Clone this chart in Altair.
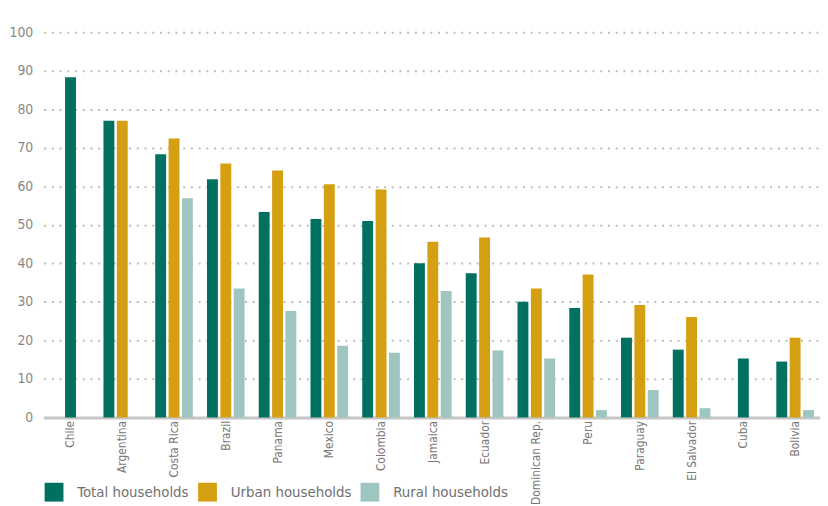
import altair as alt
import pandas as pd

countries = ["Chile", "Argentina", "Costa Rica", "Brazil", "Panama", "Mexico", "Colombia",
             "Jamaica", "Ecuador", "Dominican Rep.", "Peru", "Paraguay", "El Salvador", "Cuba", "Bolivia"]
total = [88.3, 77.0, 68.3, 61.8, 53.3, 51.5, 51.0, 40.0, 37.4, 30.0, 28.4, 20.7, 17.6, 15.3, 14.5]
urban = [None, 77.0, 72.4, 65.9, 64.1, 60.5, 59.2, 45.6, 46.7, 33.5, 37.1, 29.2, 26.1, None, 20.7]
rural = [None, None, 56.9, 33.5, 27.6, 18.6, 16.8, 32.8, 17.4, 15.3, 1.9, 7.1, 2.4, None, 1.9]
series = ["Total households", "Urban households", "Rural households"]
colors = ["#007060", "#D4A012", "#9EC5C0"]

rows = []
for i, c in enumerate(countries):
    for k, vals in enumerate([total, urban, rural]):
        if vals[i] is not None:
            rows.append({"country": c, "series": series[k], "order": k, "value": vals[i]})
df = pd.DataFrame(rows)

FONT = "DejaVu Sans Condensed, Liberation Sans Narrow, Roboto Condensed, Roboto, sans-serif"
W = 784
half = W / len(countries) / 2 + 1

chart = alt.Chart(df).transform_joinaggregate(
    n="count()", groupby=["country"]
).transform_calculate(
    off="datum.n == 1 ? 0 : datum.order - 1"
).mark_bar(size=11).encode(
    x=alt.X("country:N", sort=countries, title=None,
            scale=alt.Scale(paddingInner=0, paddingOuter=0),
            axis=alt.Axis(labelAngle=-90, labelFont=FONT, labelFontSize=12, labelColor="#777777",
                          ticks=False, domainColor="#C6C6C6", domainWidth=3, labelPadding=3,
                          labelOffset=1)),
    xOffset=alt.XOffset("off:Q", scale=alt.Scale(domain=[-1, 1], range=[half - 13.5, half + 13.5])),
    y=alt.Y("value:Q", title=None,
            scale=alt.Scale(domain=[0, 100], nice=False),
            axis=alt.Axis(values=list(range(0, 101, 10)), labelFont=FONT, labelFontSize=14,
                          labelColor="#888888", domain=False, ticks=False, labelPadding=11,
                          gridColor="#BDBDBD", gridDash=[2, 5.8], gridWidth=2)),
    color=alt.Color("series:N", sort=series,
                    scale=alt.Scale(domain=series, range=colors),
                    legend=alt.Legend(title=None, orient="none", direction="horizontal",
                                      legendX=1, legendY=455, symbolType="square", symbolSize=361,
                                      symbolStrokeWidth=0, labelFont=FONT, labelFontSize=15,
                                      labelColor="#707070", labelOffset=14, columnPadding=9,
                                      symbolOpacity=1)),
).properties(
    width=W, height=389,
    autosize=alt.AutoSizeParams(type="none"),
    padding={"left": 36, "top": 22, "right": 0, "bottom": 87},
).configure_view(stroke=None)

chart.save("out.html", embed_options={"renderer": "svg", "actions": False})
